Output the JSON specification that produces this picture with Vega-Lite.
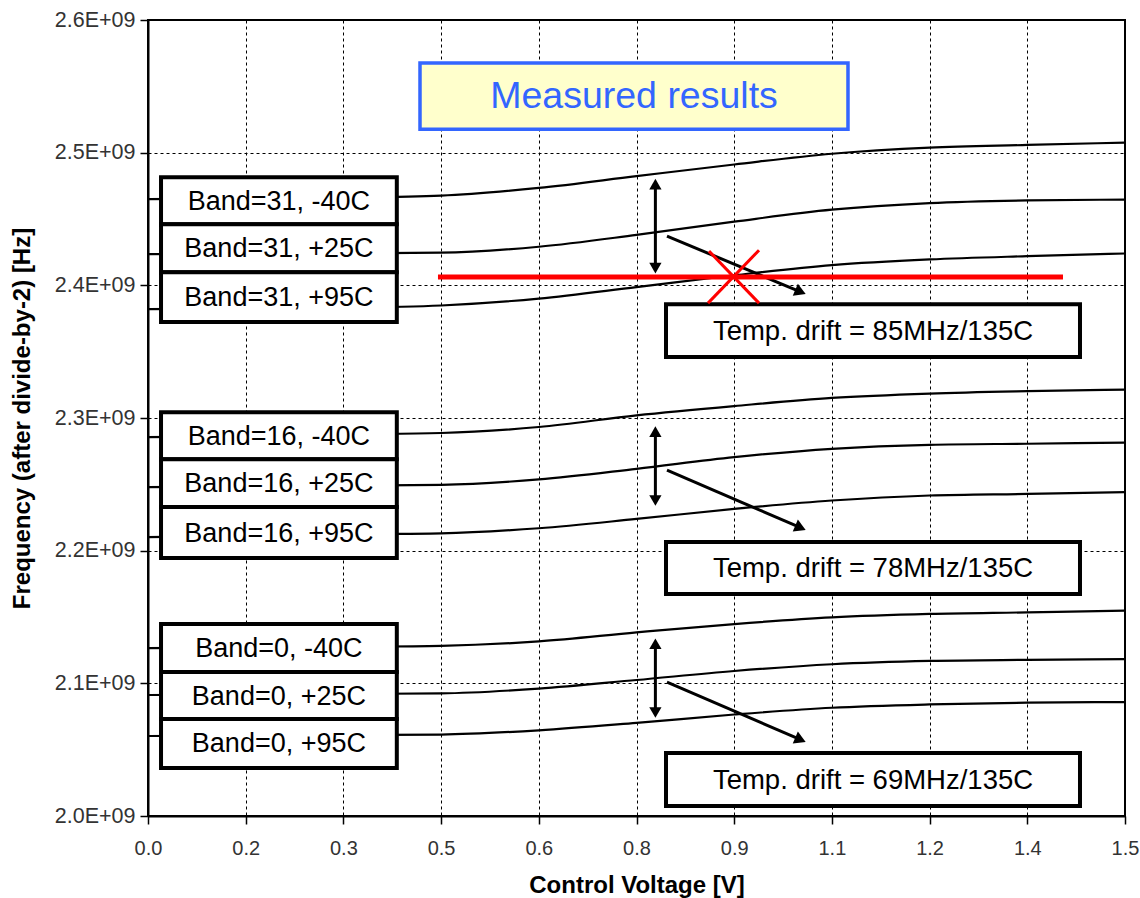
{
  "$schema": "https://vega.github.io/schema/vega-lite/v6.json",
  "width": 977,
  "height": 796,
  "autosize": {"type": "none"},
  "padding": {"left": 148, "top": 20, "right": 15, "bottom": 82},
  "background": "white",
  "config": {
    "view": {"stroke": "#000", "strokeWidth": 2},
    "font": "Liberation Sans"
  },
  "datasets": {
    "curves": [
      {"s": "Band=31, -40C", "v": 0, "f": 2465000000}, {"s": "Band=31, -40C", "v": 0.15, "f": 2465500000}, {"s": "Band=31, -40C", "v": 0.3, "f": 2466100000}, {"s": "Band=31, -40C", "v": 0.45, "f": 2467600000}, {"s": "Band=31, -40C", "v": 0.6, "f": 2473400000}, {"s": "Band=31, -40C", "v": 0.75, "f": 2482300000}, {"s": "Band=31, -40C", "v": 0.9, "f": 2491100000}, {"s": "Band=31, -40C", "v": 1.05, "f": 2499200000}, {"s": "Band=31, -40C", "v": 1.2, "f": 2503800000}, {"s": "Band=31, -40C", "v": 1.35, "f": 2505800000}, {"s": "Band=31, -40C", "v": 1.5, "f": 2507600000},
      {"s": "Band=31, +25C", "v": 0, "f": 2423500000}, {"s": "Band=31, +25C", "v": 0.15, "f": 2423800000}, {"s": "Band=31, +25C", "v": 0.3, "f": 2424200000}, {"s": "Band=31, +25C", "v": 0.45, "f": 2424600000}, {"s": "Band=31, +25C", "v": 0.6, "f": 2429100000}, {"s": "Band=31, +25C", "v": 0.75, "f": 2438000000}, {"s": "Band=31, +25C", "v": 0.9, "f": 2448000000}, {"s": "Band=31, +25C", "v": 1.05, "f": 2457000000}, {"s": "Band=31, +25C", "v": 1.2, "f": 2462000000}, {"s": "Band=31, +25C", "v": 1.35, "f": 2464000000}, {"s": "Band=31, +25C", "v": 1.5, "f": 2464600000},
      {"s": "Band=31, +95C", "v": 0, "f": 2382000000}, {"s": "Band=31, +95C", "v": 0.15, "f": 2382500000}, {"s": "Band=31, +95C", "v": 0.3, "f": 2383000000}, {"s": "Band=31, +95C", "v": 0.45, "f": 2384800000}, {"s": "Band=31, +95C", "v": 0.6, "f": 2390000000}, {"s": "Band=31, +95C", "v": 0.75, "f": 2398700000}, {"s": "Band=31, +95C", "v": 0.9, "f": 2407600000}, {"s": "Band=31, +95C", "v": 1.05, "f": 2415200000}, {"s": "Band=31, +95C", "v": 1.2, "f": 2419500000}, {"s": "Band=31, +95C", "v": 1.35, "f": 2422000000}, {"s": "Band=31, +95C", "v": 1.5, "f": 2424000000},
      {"s": "Band=16, -40C", "v": 0, "f": 2285600000}, {"s": "Band=16, -40C", "v": 0.15, "f": 2286500000}, {"s": "Band=16, -40C", "v": 0.3, "f": 2287800000}, {"s": "Band=16, -40C", "v": 0.45, "f": 2288700000}, {"s": "Band=16, -40C", "v": 0.6, "f": 2293200000}, {"s": "Band=16, -40C", "v": 0.75, "f": 2302000000}, {"s": "Band=16, -40C", "v": 0.9, "f": 2309000000}, {"s": "Band=16, -40C", "v": 1.05, "f": 2315100000}, {"s": "Band=16, -40C", "v": 1.2, "f": 2318400000}, {"s": "Band=16, -40C", "v": 1.35, "f": 2320200000}, {"s": "Band=16, -40C", "v": 1.5, "f": 2321400000},
      {"s": "Band=16, +25C", "v": 0, "f": 2247900000}, {"s": "Band=16, +25C", "v": 0.15, "f": 2248300000}, {"s": "Band=16, +25C", "v": 0.3, "f": 2249000000}, {"s": "Band=16, +25C", "v": 0.45, "f": 2249600000}, {"s": "Band=16, +25C", "v": 0.6, "f": 2253700000}, {"s": "Band=16, +25C", "v": 0.75, "f": 2261700000}, {"s": "Band=16, +25C", "v": 0.9, "f": 2270500000}, {"s": "Band=16, +25C", "v": 1.05, "f": 2276800000}, {"s": "Band=16, +25C", "v": 1.2, "f": 2279800000}, {"s": "Band=16, +25C", "v": 1.35, "f": 2280600000}, {"s": "Band=16, +25C", "v": 1.5, "f": 2281400000},
      {"s": "Band=16, +95C", "v": 0, "f": 2210200000}, {"s": "Band=16, +95C", "v": 0.15, "f": 2211200000}, {"s": "Band=16, +95C", "v": 0.3, "f": 2212400000}, {"s": "Band=16, +95C", "v": 0.45, "f": 2213100000}, {"s": "Band=16, +95C", "v": 0.6, "f": 2216900000}, {"s": "Band=16, +95C", "v": 0.75, "f": 2223900000}, {"s": "Band=16, +95C", "v": 0.9, "f": 2231500000}, {"s": "Band=16, +95C", "v": 1.05, "f": 2237800000}, {"s": "Band=16, +95C", "v": 1.2, "f": 2241600000}, {"s": "Band=16, +95C", "v": 1.35, "f": 2242800000}, {"s": "Band=16, +95C", "v": 1.5, "f": 2244100000},
      {"s": "Band=0, -40C", "v": 0, "f": 2126600000}, {"s": "Band=0, -40C", "v": 0.15, "f": 2127000000}, {"s": "Band=0, -40C", "v": 0.3, "f": 2127600000}, {"s": "Band=0, -40C", "v": 0.45, "f": 2128300000}, {"s": "Band=0, -40C", "v": 0.6, "f": 2131600000}, {"s": "Band=0, -40C", "v": 0.75, "f": 2138400000}, {"s": "Band=0, -40C", "v": 0.9, "f": 2144700000}, {"s": "Band=0, -40C", "v": 1.05, "f": 2149700000}, {"s": "Band=0, -40C", "v": 1.2, "f": 2152300000}, {"s": "Band=0, -40C", "v": 1.35, "f": 2153500000}, {"s": "Band=0, -40C", "v": 1.5, "f": 2154800000},
      {"s": "Band=0, +25C", "v": 0, "f": 2091200000}, {"s": "Band=0, +25C", "v": 0.15, "f": 2091500000}, {"s": "Band=0, +25C", "v": 0.3, "f": 2092000000}, {"s": "Band=0, +25C", "v": 0.45, "f": 2092400000}, {"s": "Band=0, +25C", "v": 0.6, "f": 2096000000}, {"s": "Band=0, +25C", "v": 0.75, "f": 2102500000}, {"s": "Band=0, +25C", "v": 0.9, "f": 2109300000}, {"s": "Band=0, +25C", "v": 1.05, "f": 2114400000}, {"s": "Band=0, +25C", "v": 1.2, "f": 2116900000}, {"s": "Band=0, +25C", "v": 1.35, "f": 2117700000}, {"s": "Band=0, +25C", "v": 1.5, "f": 2118200000},
      {"s": "Band=0, +95C", "v": 0, "f": 2060300000}, {"s": "Band=0, +95C", "v": 0.15, "f": 2060600000}, {"s": "Band=0, +95C", "v": 0.3, "f": 2061000000}, {"s": "Band=0, +95C", "v": 0.45, "f": 2061400000}, {"s": "Band=0, +95C", "v": 0.6, "f": 2064600000}, {"s": "Band=0, +95C", "v": 0.75, "f": 2070200000}, {"s": "Band=0, +95C", "v": 0.9, "f": 2076500000}, {"s": "Band=0, +95C", "v": 1.05, "f": 2081600000}, {"s": "Band=0, +95C", "v": 1.2, "f": 2084100000}, {"s": "Band=0, +95C", "v": 1.35, "f": 2085400000}, {"s": "Band=0, +95C", "v": 1.5, "f": 2085900000}
    ],
    "bandBoxes": [
      {"v": 0.020, "v2": 0.382, "f": 2481500000, "f2": 2446100000},
      {"v": 0.020, "v2": 0.382, "f": 2446100000, "f2": 2409900000},
      {"v": 0.020, "v2": 0.382, "f": 2409900000, "f2": 2372300000},
      {"v": 0.020, "v2": 0.382, "f": 2304400000, "f2": 2269000000},
      {"v": 0.020, "v2": 0.382, "f": 2269000000, "f2": 2232900000},
      {"v": 0.020, "v2": 0.382, "f": 2232900000, "f2": 2194400000},
      {"v": 0.020, "v2": 0.382, "f": 2144700000, "f2": 2108500000},
      {"v": 0.020, "v2": 0.382, "f": 2108500000, "f2": 2073100000},
      {"v": 0.020, "v2": 0.382, "f": 2073100000, "f2": 2036200000}
    ],
    "bandLabels": [
      {"t": "Band=31, -40C", "v": 0.201, "f": 2463800000},
      {"t": "Band=31, +25C", "v": 0.201, "f": 2428000000},
      {"t": "Band=31, +95C", "v": 0.201, "f": 2391100000},
      {"t": "Band=16, -40C", "v": 0.201, "f": 2286700000},
      {"t": "Band=16, +25C", "v": 0.201, "f": 2250950000},
      {"t": "Band=16, +95C", "v": 0.201, "f": 2213650000},
      {"t": "Band=0, -40C", "v": 0.201, "f": 2126600000},
      {"t": "Band=0, +25C", "v": 0.201, "f": 2090800000},
      {"t": "Band=0, +95C", "v": 0.201, "f": 2054650000}
    ],
    "driftBoxes": [
      {"v": 0.7953, "v2": 1.4309, "f": 2385800000, "f2": 2345900000},
      {"v": 0.7953, "v2": 1.4309, "f": 2206500000, "f2": 2167300000},
      {"v": 0.7953, "v2": 1.4309, "f": 2047500000, "f2": 2007500000}
    ],
    "driftLabels": [
      {"t": "Temp. drift = 85MHz/135C", "v": 1.1131, "f": 2365850000},
      {"t": "Temp. drift = 78MHz/135C", "v": 1.1131, "f": 2186900000},
      {"t": "Temp. drift = 69MHz/135C", "v": 1.1131, "f": 2027500000}
    ],
    "titleBox": [
      {"v": 0.4176, "v2": 1.0747, "f": 2567500000, "f2": 2517700000}
    ],
    "titleLabel": [
      {"t": "Measured results", "v": 0.7462, "f": 2542600000}
    ],
    "shafts": [
      {"v": 0.779, "v2": 0.779, "f": 2476300000, "f2": 2413000000},
      {"v": 0.779, "v2": 0.779, "f": 2289700000, "f2": 2237800000},
      {"v": 0.779, "v2": 0.779, "f": 2129800000, "f2": 2078000000},
      {"v": 0.7968, "v2": 1.0018, "f": 2437100000, "f2": 2395100000},
      {"v": 0.7968, "v2": 1.0018, "f": 2260700000, "f2": 2217300000},
      {"v": 0.7968, "v2": 1.0018, "f": 2101000000, "f2": 2057500000}
    ],
    "headsUp": [
      {"v": 0.779, "f": 2476300000},
      {"v": 0.779, "f": 2289700000},
      {"v": 0.779, "f": 2129800000}
    ],
    "headsDown": [
      {"v": 0.779, "f": 2413000000},
      {"v": 0.779, "f": 2237800000},
      {"v": 0.779, "f": 2078000000}
    ],
    "headsDiag": [
      {"v": 1.0018, "f": 2395100000},
      {"v": 1.0018, "f": 2217300000},
      {"v": 1.0018, "f": 2057500000}
    ],
    "redLine": [
      {"v": 0.4452, "v2": 1.4048, "f": 2406200000, "f2": 2406200000}
    ],
    "redX": [
      {"v": 0.8613, "v2": 0.9381, "f": 2425800000, "f2": 2386600000},
      {"v": 0.9381, "v2": 0.8598, "f": 2426500000, "f2": 2386600000}
    ]
  },
  "encoding": {
    "x": {
      "field": "v",
      "type": "quantitative",
      "scale": {"domain": [0, 1.5], "nice": false, "zero": false},
      "axis": {
        "values": [0, 0.15, 0.3, 0.45, 0.6, 0.75, 0.9, 1.05, 1.2, 1.35, 1.5],
        "labelExpr": "format(datum.value + 0.001, '.1f')",
        "title": "Control Voltage [V]",
        "grid": true,
        "gridColor": "#000",
        "gridDash": [3, 3],
        "gridWidth": 1,
        "domainColor": "#000",
        "domainWidth": 2,
        "tickColor": "#000",
        "tickSize": 8,
        "tickWidth": 1.5,
        "labelFont": "Liberation Sans",
        "labelFontSize": 20,
        "labelColor": "#333",
        "labelPadding": 14,
        "labelFlush": false,
        "labelOverlap": false,
        "titleFont": "Liberation Sans",
        "titleFontSize": 24,
        "titleFontWeight": "bold",
        "titleColor": "#000",
        "titlePadding": 15
      }
    },
    "y": {
      "field": "f",
      "type": "quantitative",
      "scale": {"domain": [2000000000, 2600000000], "nice": false, "zero": false},
      "axis": {
        "values": [2000000000, 2100000000, 2200000000, 2300000000, 2400000000, 2500000000, 2600000000],
        "labelExpr": "format(datum.value / 1e9, '.1f') + 'E+09'",
        "title": "Frequency (after divide-by-2) [Hz]",
        "grid": true,
        "gridColor": "#000",
        "gridDash": [3, 3],
        "gridWidth": 1,
        "domainColor": "#000",
        "domainWidth": 2,
        "tickColor": "#000",
        "tickSize": 8,
        "tickWidth": 1.5,
        "labelFont": "Liberation Sans",
        "labelFontSize": 21.5,
        "labelColor": "#333",
        "labelPadding": 5,
        "labelOverlap": false,
        "titleFont": "Liberation Sans",
        "titleFontSize": 24,
        "titleFontWeight": "bold",
        "titleColor": "#000",
        "titlePadding": 20
      }
    }
  },
  "layer": [
    {
      "data": {"name": "curves"},
      "mark": {"type": "line", "color": "#000", "strokeWidth": 2.2, "interpolate": "monotone"},
      "encoding": {"detail": {"field": "s", "type": "nominal"}}
    },
    {
      "data": {"name": "bandBoxes"},
      "mark": {"type": "rect", "fill": "#fff", "stroke": "#000", "strokeWidth": 4},
      "encoding": {"x2": {"field": "v2"}, "y2": {"field": "f2"}}
    },
    {
      "data": {"name": "driftBoxes"},
      "mark": {"type": "rect", "fill": "#fff", "stroke": "#000", "strokeWidth": 4},
      "encoding": {"x2": {"field": "v2"}, "y2": {"field": "f2"}}
    },
    {
      "data": {"name": "titleBox"},
      "mark": {"type": "rect", "fill": "#FFFFCC", "stroke": "#3366FF", "strokeWidth": 3.5},
      "encoding": {"x2": {"field": "v2"}, "y2": {"field": "f2"}}
    },
    {
      "data": {"name": "shafts"},
      "mark": {"type": "rule", "color": "#000", "strokeWidth": 3},
      "encoding": {"x2": {"field": "v2"}, "y2": {"field": "f2"}}
    },
    {
      "data": {"name": "headsUp"},
      "mark": {"type": "point", "shape": "triangle-up", "filled": true, "color": "#000", "size": 150, "opacity": 1},
      "encoding": {}
    },
    {
      "data": {"name": "headsDown"},
      "mark": {"type": "point", "shape": "triangle-down", "filled": true, "color": "#000", "size": 150, "opacity": 1},
      "encoding": {}
    },
    {
      "data": {"name": "headsDiag"},
      "mark": {"type": "point", "shape": "triangle-right", "filled": true, "color": "#000", "size": 170, "angle": 23, "opacity": 1},
      "encoding": {}
    },
    {
      "data": {"name": "redLine"},
      "mark": {"type": "rule", "color": "#FF0000", "strokeWidth": 5},
      "encoding": {"x2": {"field": "v2"}, "y2": {"field": "f2"}}
    },
    {
      "data": {"name": "redX"},
      "mark": {"type": "rule", "color": "#FF0000", "strokeWidth": 3},
      "encoding": {"x2": {"field": "v2"}, "y2": {"field": "f2"}}
    },
    {
      "data": {"name": "bandLabels"},
      "mark": {"type": "text", "font": "Liberation Sans", "fontSize": 27, "color": "#000", "align": "center", "baseline": "middle", "dy": 1},
      "encoding": {"text": {"field": "t"}}
    },
    {
      "data": {"name": "driftLabels"},
      "mark": {"type": "text", "font": "Liberation Sans", "fontSize": 27.5, "color": "#000", "align": "center", "baseline": "middle", "dy": 1},
      "encoding": {"text": {"field": "t"}}
    },
    {
      "data": {"name": "titleLabel"},
      "mark": {"type": "text", "font": "Liberation Sans", "fontSize": 37.5, "color": "#3366FF", "align": "center", "baseline": "middle", "dy": 1},
      "encoding": {"text": {"field": "t"}}
    }
  ]
}
